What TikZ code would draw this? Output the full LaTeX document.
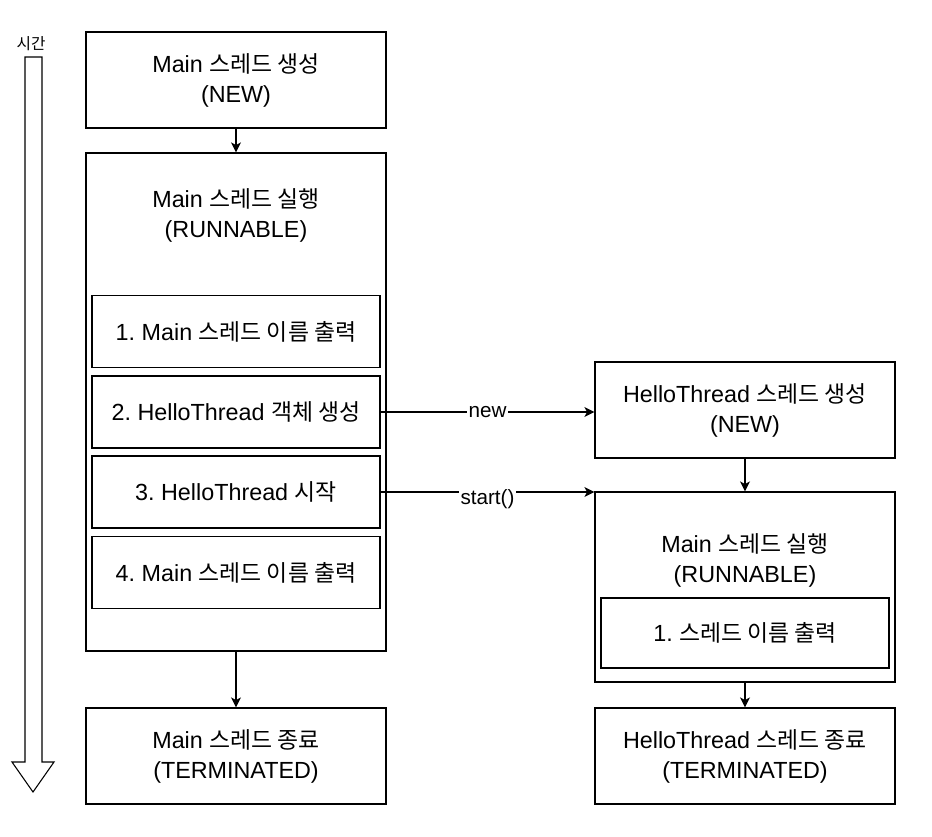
\documentclass[tikz,border=0pt]{standalone}
\usepackage{fontspec}
\setmainfont{Liberation Sans}
\newfontfamily\kr{Noto Sans CJK KR}[Scale=0.98]
\usetikzlibrary{arrows.meta}
\frenchspacing
\begin{document}
\begin{tikzpicture}[x=0.75pt,y=-0.75pt,
  box/.style={draw, line width=0.9pt, align=center, inner sep=0pt,
    font=\fontsize{17.5}{22.5}\selectfont, minimum width=225pt, minimum height=72pt},
  subbox/.style={box, minimum width=216pt, minimum height=54pt},
  txt/.style={align=center, inner sep=0pt, font=\fontsize{17.5}{22.5}\selectfont},
  conn/.style={-{Stealth[length=7.5pt,width=7.5pt,inset=2pt]}, line width=0.9pt},
  lbl/.style={fill=white, inner sep=1pt, font=\fontsize{15.5}{18}\selectfont}]
\useasboundingbox (0,0) rectangle (932,836);

% time arrow
\node[font=\kr\fontsize{12}{14}\selectfont] (time) at (31,44) {시간};
\draw[line width=0.8pt, line join=miter] (25,57) -- (42,57) -- (42,762) -- (54,762) -- (33,792) -- (12,762) -- (25,762) -- cycle;

% main thread
\node[box] (mnew) at (236,80) {Main {\kr 스레드 생성}\\(NEW)};
\node[box, minimum height=373.5pt] (mrun) at (236,402) {};
\node[txt] (mruntxt) at (236,215) {Main {\kr 스레드 실행}\\(RUNNABLE)};
\node[subbox] (s1) at (236,331.5) {1. Main {\kr 스레드 이름 출력}};
\node[subbox] (s2) at (236,412) {2. HelloThread {\kr 객체 생성}};
\node[subbox] (s3) at (236,492) {3. HelloThread {\kr 시작}};
\node[subbox] (s4) at (236,572.5) {4. Main {\kr 스레드 이름 출력}};
\node[box] (mend) at (236,756) {Main {\kr 스레드 종료}\\(TERMINATED)};

% hello thread
\node[box] (hnew) at (745,410) {HelloThread {\kr 스레드 생성}\\(NEW)};
\node[box, minimum height=142.5pt] (hrun) at (745,587) {};
\node[txt] (hruntxt) at (745,560) {Main {\kr 스레드 실행}\\(RUNNABLE)};
\node[subbox, minimum height=52.5pt] (h1) at (745,633) {1. {\kr 스레드 이름 출력}};
\node[box] (hend) at (745,756) {HelloThread {\kr 스레드 종료}\\(TERMINATED)};

% connectors
\draw[conn] (mnew) -- (mrun);
\draw[conn] (mrun) -- (mend);
\draw[conn] (hnew) -- (hrun);
\draw[conn] (hrun) -- (hend);
\draw[conn] (s2.east) -- (s2.east -| hnew.west) node[lbl, midway] {new};
\draw[conn] (s3.east) -- (s3.east -| hrun.west) node[lbl, midway, yshift=-5pt] {start()};
\end{tikzpicture}
\end{document}
